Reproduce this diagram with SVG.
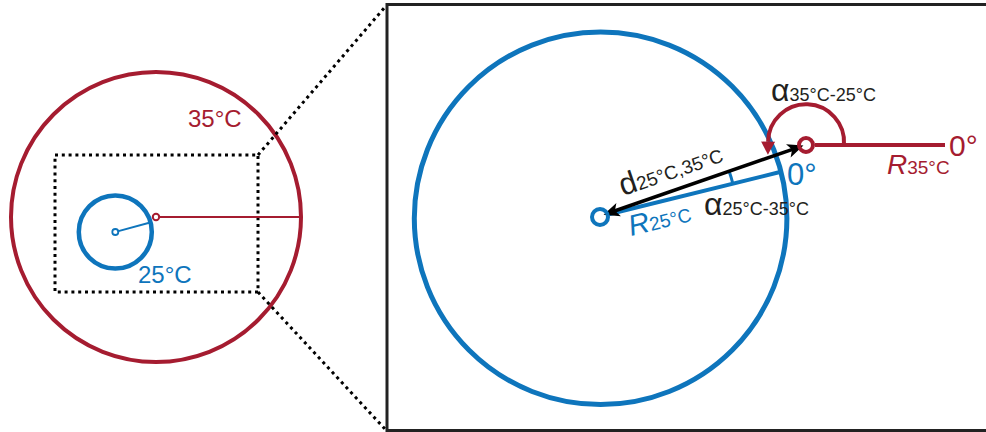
<svg xmlns="http://www.w3.org/2000/svg" width="986" height="432" viewBox="0 0 986 432">
<style>
.red{stroke:#A51C30;fill:none}
.blue{stroke:#0E75BC;fill:none}
.dot{stroke:#000;stroke-width:3;stroke-dasharray:3 3.8;fill:none}
.t{font-family:"Liberation Sans",Arial,sans-serif}
.tr{fill:#A51C30}
.tb{fill:#0E75BC}
.tk{fill:#231F20}
</style>
<defs>
<marker id="ahRed" markerUnits="userSpaceOnUse" markerWidth="30" markerHeight="30" viewBox="-15 -15 30 30" refX="0" refY="0" orient="auto">
<path d="M13,0 L0,-7 L0,7 z" fill="#A51C30"/>
</marker>
<marker id="ahBlack" markerUnits="userSpaceOnUse" markerWidth="30" markerHeight="30" viewBox="-15 -15 30 30" refX="0" refY="0" orient="auto-start-reverse">
<path d="M10,0 L-6,-7 L-2,0 L-6,7 z" fill="#000"/>
</marker>
</defs>

<g id="overview">
<circle cx="156" cy="217" r="145" class="red" stroke-width="4"/>
<circle cx="115.3" cy="232" r="36.5" class="blue" stroke-width="4.5"/>
<rect x="55" y="155" width="203" height="137" class="dot"/>
<text x="188" y="127" class="t tr" font-size="24">35°C</text>
<text x="138" y="283" class="t tb" font-size="24">25°C</text>
</g>

<g id="zoom-frame">
<rect x="387" y="4.5" width="610" height="426" fill="none" stroke="#222" stroke-width="3"/>
</g>

<g id="circle-25">
<circle cx="600.6" cy="218.3" r="186.3" class="blue" stroke-width="5"/>
</g>

<g id="connectors">
<line x1="258" y1="155" x2="385" y2="7" class="dot"/>
<line x1="258" y1="292" x2="385" y2="429" class="dot"/>
<line x1="159.5" y1="217" x2="301" y2="217" class="red" stroke-width="2"/>
<line x1="117.5" y1="231.4" x2="152" y2="222" class="blue" stroke-width="2"/>
<line x1="815" y1="145" x2="945" y2="145" class="red" stroke-width="4"/>
<line x1="607" y1="214.7" x2="780" y2="172" class="blue" stroke-width="4"/>
<path d="M729.3,171.8 A137,137 0 0 1 732.9,183.8" class="blue" stroke-width="3"/>
<path d="M844,145 A38,38 0 1 0 768.1,141.7" class="red" stroke-width="4" marker-end="url(#ahRed)"/>
<line x1="613" y1="211.5" x2="794" y2="148.8" stroke="#000" stroke-width="3.5" marker-start="url(#ahBlack)" marker-end="url(#ahBlack)"/>
</g>

<g id="overview-points">
<circle cx="156" cy="217" r="3.2" fill="#fff" class="red" stroke-width="2"/>
<circle cx="115.3" cy="232" r="3" fill="#fff" class="blue" stroke-width="1.8"/>
</g>

<g id="center-25">
<circle cx="600" cy="217" r="8" fill="#fff" class="blue" stroke-width="4"/>
</g>

<g id="point-35">
<circle cx="806" cy="145" r="7" fill="#fff" class="red" stroke-width="4"/>
</g>

<g id="labels">
<text x="771" y="101" class="t tk"><tspan font-size="32">α</tspan><tspan font-size="18">35°C-25°C</tspan></text>
<text x="704" y="215" class="t tk"><tspan font-size="32">α</tspan><tspan font-size="18">25°C-35°C</tspan></text>
<text transform="translate(623,196) rotate(-19)" class="t tk"><tspan font-size="31">d</tspan><tspan font-size="19">25°C,35°C</tspan></text>
<text transform="translate(631,236) rotate(-14)" class="t tb"><tspan font-size="29" font-style="italic">R</tspan><tspan font-size="19">25°C</tspan></text>
<text x="887" y="174" class="t tr"><tspan font-size="28" font-style="italic">R</tspan><tspan font-size="19">35°C</tspan></text>
<text x="787" y="185" class="t tb" font-size="31">0°</text>
<text x="949" y="156" class="t tr" font-size="30">0°</text>
</g>
</svg>
